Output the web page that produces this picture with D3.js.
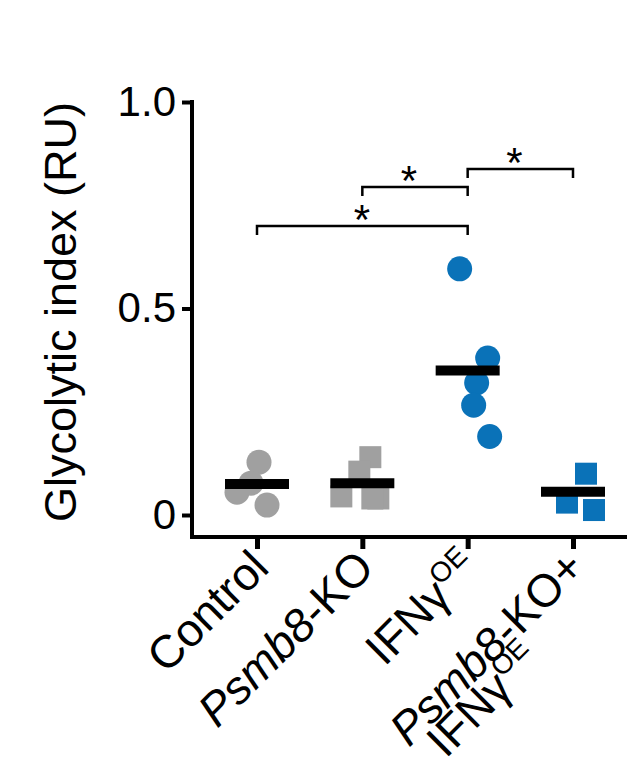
<!DOCTYPE html>
<html><head><meta charset="utf-8">
<script src="https://cdn.jsdelivr.net/npm/d3@7"></script>
<style>body{margin:0;background:#fff}</style></head>
<body><div id="chart"></div>
<script>
var groups = ["Control", "Psmb8-KO", "IFNg", "Psmb8-KO+IFNg"];
var controlVals = [0.128, 0.077, 0.024, 0.055];
var koVals = [0.14, 0.105, 0.045, 0.04, 0.04];
var ifnVals = [0.596, 0.38, 0.32, 0.266, 0.19];
var koIfnVals = [0.10, 0.03, 0.012];
var means = [0.075, 0.077, 0.35, 0.056];
var xOffsets = [[2, -6, 10, -20], [8, -3, -21, 16, 10], [-8, 20, 9, 6, 22], [13, -6, 21]];
var brackets = [[0, 2, 0.70], [1, 2, 0.794], [2, 3, 0.838]];

var svg = d3.select("#chart").append("svg").attr("width", 627).attr("height", 776);
var y = d3.scaleLinear().domain([0, 1]).range([515, 102]);
var x = d3.scalePoint().domain(groups).range([257, 573]);
var font = "Liberation Sans, Arial, sans-serif";

// y axis
var yAx = svg.append("g").attr("transform", "translate(192,0)")
    .call(d3.axisLeft(y).tickValues([0, 0.5, 1]).tickFormat(function (d) { return d === 0 ? "0" : d3.format(".1f")(d); }).tickSize(10).tickPadding(6));
yAx.select(".domain").attr("d", "M0," + (y(1) - 2) + "V537").attr("stroke-width", 4);
yAx.selectAll(".tick line").attr("stroke-width", 4);
yAx.selectAll("text").attr("font-size", 42).attr("font-family", font).attr("fill", "#000");

// x axis
var xAx = svg.append("g").attr("transform", "translate(0,537)")
    .call(d3.axisBottom(x).tickSize(12).tickFormat(""));
xAx.select(".domain").attr("d", "M190,0H627").attr("stroke-width", 4);
xAx.selectAll(".tick line").attr("stroke-width", 5);

// x labels
function label(tx, ty, parts) {
  var t = svg.append("text").attr("font-family", font).attr("font-size", 46).attr("text-anchor", "end")
    .attr("transform", "translate(" + tx + "," + ty + ") rotate(-45)");
  parts.forEach(function (p) {
    var s = t.append("tspan").text(p[0]);
    if (p[1] === "i") s.attr("font-style", "italic");
    if (p[1] === "sup") s.attr("font-size", 28).attr("dy", -18);
  });
}
label(x(groups[0]) + 14, 570, [["Control"]]);
label(x(groups[1]) + 14, 570, [["Psmb8", "i"], ["-KO"]]);
label(x(groups[2]) + 14, 570, [["IFNγ"], ["OE", "sup"]]);
label(x(groups[3]) + 14, 570, [["Psmb8", "i"], ["-KO+"]]);
label(x(groups[3]) - 30, 662, [["IFNγ"], ["OE", "sup"]]);

// y label
svg.append("text").attr("transform", "translate(76,312) rotate(-90)").attr("text-anchor", "middle")
  .attr("font-family", font).attr("font-size", 45).text("Glycolytic index (RU)");

// points
var all = [controlVals, koVals, ifnVals, koIfnVals];
var colors = ["#a0a0a0", "#a0a0a0", "#0a72b8", "#0a72b8"];
all.forEach(function (vals, i) {
  var g = svg.append("g");
  vals.forEach(function (v, j) {
    var cx = x(groups[i]) + xOffsets[i][j];
    if (i === 0 || i === 2) {
      g.append("circle").attr("cx", cx).attr("cy", y(v)).attr("r", 12.5).attr("fill", colors[i]);
    } else {
      g.append("rect").attr("x", cx - 11).attr("y", y(v) - 11).attr("width", 22).attr("height", 22).attr("fill", colors[i]);
    }
  });
  svg.append("line").attr("x1", x(groups[i]) - 32).attr("x2", x(groups[i]) + 32)
    .attr("y1", y(means[i])).attr("y2", y(means[i])).attr("stroke", "#000").attr("stroke-width", 10);
});

// significance brackets
brackets.forEach(function (b) {
  var x1 = x(groups[b[0]]), x2 = x(groups[b[1]]), yy = y(b[2]);
  svg.append("path").attr("d", "M" + x1 + "," + (yy + 9) + "V" + yy + "H" + x2 + "V" + (yy + 9))
    .attr("fill", "none").attr("stroke", "#000").attr("stroke-width", 2.5);
  var mx = b[0] === 0 ? 362 : (x1 + x2) / 2 - 6;
  svg.append("text").attr("x", mx).attr("y", yy + 8).attr("text-anchor", "middle")
    .attr("font-family", font).attr("font-size", 42).text("*");
});
</script></body></html>
